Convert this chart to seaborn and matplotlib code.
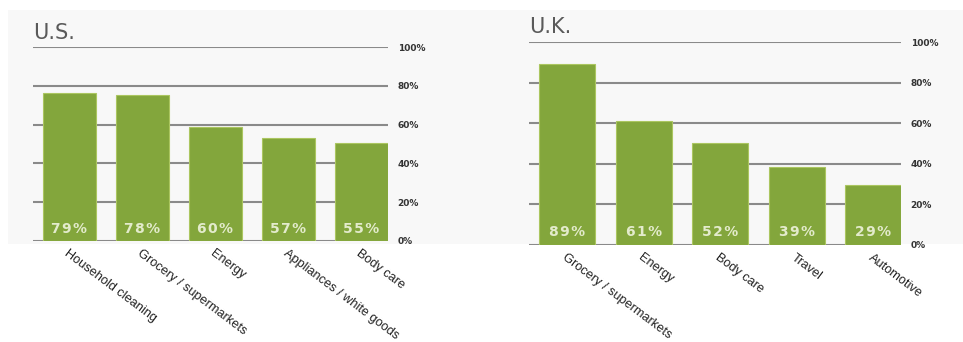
import matplotlib
matplotlib.use("Agg")
import matplotlib.pyplot as plt
import seaborn as sns
import pandas as pd

# bar heights as drawn in the picture, printed labels as shown
us_categories = ["Household cleaning", "Grocery / supermarkets", "Energy",
                 "Appliances / white goods", "Body care"]
us_heights = [76.6, 75.2, 58.9, 53.2, 50.6]
us_labels = ["79%", "78%", "60%", "57%", "55%"]

uk_categories = ["Grocery / supermarkets", "Energy", "Body care", "Travel", "Automotive"]
uk_heights = [89.2, 61.2, 50.3, 38.5, 29.3]
uk_labels = ["89%", "61%", "52%", "39%", "29%"]

y_ticks = [0, 20, 40, 60, 80, 100]
y_ticklabels = ["0%", "20%", "40%", "60%", "80%", "100%"]

green = "#83a63c"
W, H = 963, 342

sns.set_theme(style="white")
plt.rcParams["font.family"] = ["Liberation Sans", "DejaVu Sans"]

fig = plt.figure(figsize=(W / 100, H / 100), dpi=100)
fig.patch.set_facecolor("white")
# faint grey panel behind both charts
fig.patches.append(plt.Rectangle((8 / W, 1 - 244 / H), 1 - 8 / W, (244 - 10) / H,
                                 transform=fig.transFigure, facecolor="#f8f8f8",
                                 edgecolor="none", zorder=-5))

panels = [
    ("U.S.", us_categories, us_heights, us_labels,
     [33 / W, 1 - 240.7 / H, 355 / W, 193.4 / H], 33),
    ("U.K.", uk_categories, uk_heights, uk_labels,
     [529 / W, 1 - 244.5 / H, 372 / W, 202.2 / H], 27),
]

width = 0.73
for title, cats, heights, labels, rect, title_y in panels:
    ax = fig.add_axes(rect)
    ax.set_facecolor("none")
    df = pd.DataFrame({"cat": cats, "val": heights})
    sns.barplot(data=df, x="cat", y="val", color=green, width=width, ax=ax,
                edgecolor="#abc660", linewidth=0.8, saturation=1, zorder=3)
    ax.set_xlim(-0.5, len(cats) - 1 + width / 2)
    ax.set_ylim(0, 100)
    for y in y_ticks:
        ax.axhline(y, color="#8a8a8a", lw=1.5, zorder=1)
    ax.set_yticks(y_ticks)
    ax.set_yticklabels(y_ticklabels)
    ax.yaxis.tick_right()
    ax.tick_params(axis="y", length=0, pad=7, labelsize=6.5, labelcolor="#333333")
    for lab in ax.get_yticklabels():
        lab.set_fontweight("bold")
        lab.set_family("DejaVu Sans")
    for s in ax.spines.values():
        s.set_visible(False)
    ax.set_xlabel("")
    ax.set_ylabel("")

    ax.tick_params(axis="x", length=0, pad=5, labelsize=9.2, labelcolor="#222222")
    for lab in ax.get_xticklabels():
        lab.set_rotation(-37)
        lab.set_rotation_mode("anchor")
        lab.set_ha("left")
        lab.set_va("top")

    for i, t in enumerate(labels):
        ax.text(i, 6, "\u200a".join(t), ha="center", va="center", color="#e3ebcc",
                fontsize=10, fontweight="bold", family="DejaVu Sans", zorder=4)

    fig.text(rect[0], 1 - title_y / H, title, ha="left", va="center", fontsize=15,
             color="#5a5a5a", family="DejaVu Sans")

fig.savefig("out.png", dpi=100)
